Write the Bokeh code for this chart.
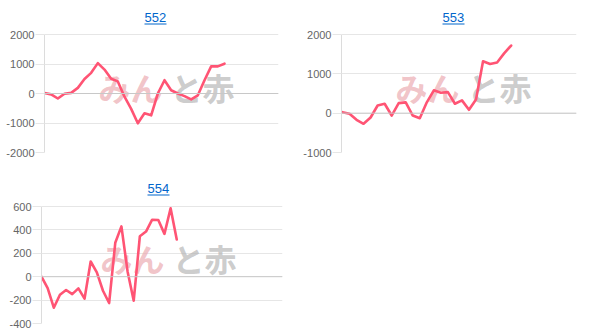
from bokeh.plotting import figure
from bokeh.models import Range1d, Span, Label, FixedTicker, PrintfTickFormatter, BoxAnnotation
from bokeh.layouts import column, row
from bokeh.embed import file_html
from bokeh.resources import INLINE

titles = ["552", "553", "554"]

vals_552 = [20, -30, -170, -10, 20, 190, 490, 700, 1030, 810, 500, 410, -110, -520,
            -1010, -670, -740, 0, 450, 110, 0, -90, -200, -60, 450, 920, 920, 1010]
vals_553 = [25, -15, -170, -270, -110, 195, 240, -60, 255, 275, -60, -130, 275, 580,
            520, 535, 240, 325, 85, 350, 1320, 1250, 1290, 1520, 1720]
vals_554 = [0, -97, -265, -154, -114, -149, -100, -188, 130, 37, -120, -225, 290, 430,
            45, -205, 346, 386, 487, 485, 366, 585, 318]

ticks_552 = [-2000, -1000, 0, 1000, 2000]
ticks_553 = [-1000, 0, 1000, 2000]
ticks_554 = [-400, -200, 0, 200, 400, 600]

LINE = "#ff5474"
GRID = "#e6e6e6"
FONT = "Liberation Sans"
CANVAS_TOP = 6   # frame starts here so that the title sits inside the canvas drawing area


def make(title, vals, ticks, width, height, left, right, top, bottom, xr, tx, ty,
         wm_x, wm_y):
    # plot area (ticks) spans from `top` to height-bottom; extend the range upward
    span_px = height - bottom - top
    per_px = (ticks[-1] - ticks[0]) / span_px
    ymax = ticks[-1] + (top - CANVAS_TOP) * per_px
    p = figure(width=width, height=height, output_backend="svg", toolbar_location=None,
               x_range=Range1d(*xr), y_range=Range1d(ticks[0], ymax),
               min_border_left=left, min_border_right=right,
               min_border_top=CANVAS_TOP, min_border_bottom=bottom)
    p.xaxis.visible = False
    p.xgrid.visible = False
    p.yaxis.ticker = FixedTicker(ticks=ticks)
    p.yaxis.bounds = (ticks[0], ticks[-1])
    p.yaxis.formatter = PrintfTickFormatter(format="%d")
    p.yaxis.axis_line_color = "#dcdcdc"
    p.yaxis.major_tick_line_color = GRID
    p.yaxis.major_tick_out = 9
    p.yaxis.major_tick_in = 0
    p.yaxis.minor_tick_line_color = None
    p.yaxis.major_label_standoff = 1
    p.yaxis.major_label_text_font = FONT
    p.yaxis.major_label_text_font_size = "11px"
    p.yaxis.major_label_text_color = "#666666"
    p.ygrid.grid_line_color = GRID
    p.outline_line_color = None
    p.background_fill_color = "white"

    # title (link style)
    p.add_layout(Label(x=tx, y=ty, x_units="canvas", y_units="canvas", text=title,
                       text_font=FONT, text_font_size="13px", text_color="#0066cc",
                       text_baseline="middle", text_align="left"))
    p.add_layout(BoxAnnotation(left=tx, right=tx + 22, top=ty + 6, bottom=ty + 7,
                               left_units="canvas", right_units="canvas",
                               top_units="canvas", bottom_units="canvas",
                               fill_color="#0066cc", fill_alpha=1, line_color=None,
                               level="overlay"))

    # watermark
    p.add_layout(Label(x=wm_x, y=wm_y, x_units="canvas", y_units="canvas", text="みん",
                       text_font="Noto Sans CJK JP", text_font_size="32px",
                       text_font_style="bold", text_color="#eaa3aa", text_alpha=0.65,
                       text_baseline="middle", level="underlay"))
    p.add_layout(Label(x=wm_x + 72, y=wm_y, x_units="canvas", y_units="canvas", text="と赤",
                       text_font="Noto Sans CJK JP", text_font_size="32px",
                       text_font_style="bold", text_color="#b0b0b0", text_alpha=0.65,
                       text_baseline="middle", level="underlay"))

    p.add_layout(Span(location=0, dimension="width", line_color="#c8c8c8", line_width=1))
    p.line(list(range(len(vals))), vals, line_color=LINE, line_width=2.6,
           line_join="round", line_cap="round")
    return p


p1 = make(titles[0], vals_552, ticks_552, 300, 165, 44, 22, 34, 13, (0, 35.1), 144, 17,
          98, 86)
p2 = make(titles[1], vals_553, ticks_553, 301, 165, 41, 25, 34, 13, (-0.14, 33.3), 142, 17,
          95, 86)
p3 = make(titles[2], vals_554, ticks_554, 300, 171, 41, 18, 41, 13, (0, 39.2), 147, 23,
          100, 92)

layout = column(row(p1, p2), p3)
open("out.html", "w").write(file_html(layout, INLINE))
